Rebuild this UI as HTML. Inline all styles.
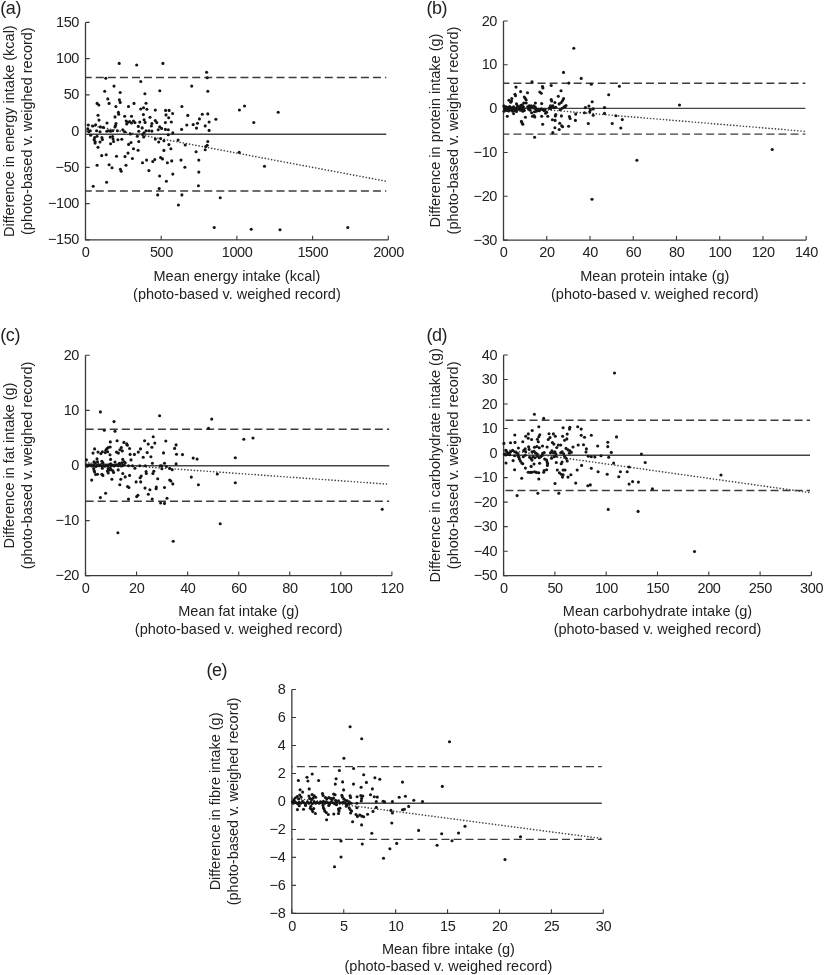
<!DOCTYPE html>
<html><head><meta charset="utf-8"><title>Bland-Altman plots</title>
<style>
html,body{margin:0;padding:0;background:#fff}
svg{display:block;will-change:transform;transform:translateZ(0)}
text{font-family:"Liberation Sans",sans-serif;fill:#222}
.t{font-size:14.5px}
.k{letter-spacing:-0.4px}
.g{font-size:18px;letter-spacing:-0.45px}
.ax{stroke:#3a3a3a;stroke-width:1.3;fill:none}
.tk{stroke:#3a3a3a;stroke-width:1.1}
.ds{stroke:#3c3c3c;stroke-width:1.3;stroke-dasharray:8 4.05;fill:none}
.so{stroke:#444;stroke-width:1.4;fill:none}
.dt{stroke:#444;stroke-width:1.65;stroke-dasharray:0.01 3.2;stroke-linecap:round;fill:none}
.p circle{fill:#151515}
</style></head><body>
<svg width="824" height="975" viewBox="0 0 824 975">
<rect width="824" height="975" fill="#fff"/>
<g>
<text class="g" x="0.3" y="14.4">(a)</text>
<path class="ax" d="M85.5 22.4V239.9H388.3"/>
<text class="t k" text-anchor="end" x="79" y="26.9">150</text>
<text class="t k" text-anchor="end" x="79" y="63.15">100</text>
<text class="t k" text-anchor="end" x="79" y="99.4">50</text>
<text class="t k" text-anchor="end" x="79" y="135.65">0</text>
<text class="t k" text-anchor="end" x="79" y="171.9">−50</text>
<text class="t k" text-anchor="end" x="79" y="208.15">−100</text>
<text class="t k" text-anchor="end" x="79" y="244.4">−150</text>
<text class="t k" text-anchor="middle" x="85.7" y="256.5">0</text>
<text class="t k" text-anchor="middle" x="161.4" y="256.5">500</text>
<text class="t k" text-anchor="middle" x="237.1" y="256.5">1000</text>
<text class="t k" text-anchor="middle" x="312.8" y="256.5">1500</text>
<text class="t k" text-anchor="middle" x="388.5" y="256.5">2000</text>
<path class="tk" d="M85.5 22.4h4.2M85.5 58.65h4.2M85.5 94.9h4.2M85.5 131.15h4.2M85.5 167.4h4.2M85.5 203.65h4.2M85.5 239.9h4.2M85.5 239.9v-4.2M161.2 239.9v-4.2M236.9 239.9v-4.2M312.6 239.9v-4.2M388.3 239.9v-4.2"/>
<path class="ds" stroke-dashoffset="1.75" d="M85.5 77.5H386.25"/>
<path class="ds" stroke-dashoffset="1.75" d="M85.5 191H386.25"/>
<path class="so" d="M85.5 134.25H386.25"/>
<path class="dt" d="M85.5 124.5L386.25 181.25"/>
<g class="p"><circle cx="140.7" cy="109" r="1.55"/><circle cx="146.9" cy="109.2" r="1.55"/><circle cx="155.3" cy="110.1" r="1.55"/><circle cx="118.4" cy="112.4" r="1.55"/><circle cx="118.7" cy="114.3" r="1.55"/><circle cx="98" cy="115.3" r="1.55"/><circle cx="143.4" cy="114.6" r="1.55"/><circle cx="124.7" cy="116.3" r="1.55"/><circle cx="131.5" cy="116.3" r="1.55"/><circle cx="115" cy="116.9" r="1.55"/><circle cx="150" cy="117.2" r="1.55"/><circle cx="99" cy="120.1" r="1.55"/><circle cx="144.1" cy="119.7" r="1.55"/><circle cx="145.1" cy="122.4" r="1.55"/><circle cx="155.3" cy="120.6" r="1.55"/><circle cx="156.8" cy="122.6" r="1.55"/><circle cx="107" cy="123" r="1.55"/><circle cx="139.8" cy="122.1" r="1.55"/><circle cx="126.2" cy="121.1" r="1.55"/><circle cx="127.6" cy="122.6" r="1.55"/><circle cx="129.6" cy="121.6" r="1.55"/><circle cx="131.5" cy="123" r="1.55"/><circle cx="133.5" cy="121.1" r="1.55"/><circle cx="134.9" cy="122.6" r="1.55"/><circle cx="126.7" cy="124" r="1.55"/><circle cx="116" cy="123.5" r="1.55"/><circle cx="115.5" cy="125.5" r="1.55"/><circle cx="115" cy="126.9" r="1.55"/><circle cx="151.9" cy="123.5" r="1.55"/><circle cx="151.4" cy="126" r="1.55"/><circle cx="88.3" cy="125" r="1.55"/><circle cx="92.7" cy="126" r="1.55"/><circle cx="95.6" cy="124.7" r="1.55"/><circle cx="138.3" cy="126.4" r="1.55"/><circle cx="142.2" cy="127.9" r="1.55"/><circle cx="100.4" cy="126.9" r="1.55"/><circle cx="103.4" cy="127.4" r="1.55"/><circle cx="159.7" cy="126.9" r="1.55"/><circle cx="158.2" cy="129.8" r="1.55"/><circle cx="87.8" cy="128.9" r="1.55"/><circle cx="90.3" cy="130.8" r="1.55"/><circle cx="88.8" cy="131.8" r="1.55"/><circle cx="96.6" cy="130.8" r="1.55"/><circle cx="100" cy="131.8" r="1.55"/><circle cx="106.8" cy="131.3" r="1.55"/><circle cx="108.7" cy="130.8" r="1.55"/><circle cx="110.6" cy="131.3" r="1.55"/><circle cx="112.6" cy="130.8" r="1.55"/><circle cx="117.4" cy="130.8" r="1.55"/><circle cx="122.8" cy="129.8" r="1.55"/><circle cx="124.7" cy="131.8" r="1.55"/><circle cx="138.8" cy="131.3" r="1.55"/><circle cx="146.1" cy="130.8" r="1.55"/><circle cx="149" cy="130.8" r="1.55"/><circle cx="151.9" cy="131.1" r="1.55"/><circle cx="144.1" cy="132.8" r="1.55"/><circle cx="142.7" cy="134.2" r="1.55"/><circle cx="130.5" cy="134" r="1.55"/><circle cx="137.3" cy="136.2" r="1.55"/><circle cx="143.7" cy="136.9" r="1.55"/><circle cx="90.7" cy="135.2" r="1.55"/><circle cx="97" cy="136.2" r="1.55"/><circle cx="94.6" cy="137.6" r="1.55"/><circle cx="94.1" cy="139.6" r="1.55"/><circle cx="95.1" cy="141.5" r="1.55"/><circle cx="95.1" cy="143.1" r="1.55"/><circle cx="101.9" cy="137.6" r="1.55"/><circle cx="102.4" cy="139.6" r="1.55"/><circle cx="100" cy="142" r="1.55"/><circle cx="110.2" cy="137.1" r="1.55"/><circle cx="112.6" cy="136.6" r="1.55"/><circle cx="113.1" cy="139.1" r="1.55"/><circle cx="113.6" cy="141.5" r="1.55"/><circle cx="110.6" cy="143.7" r="1.55"/><circle cx="117.9" cy="139.8" r="1.55"/><circle cx="121.8" cy="139.3" r="1.55"/><circle cx="131" cy="142.5" r="1.55"/><circle cx="128.6" cy="144.4" r="1.55"/><circle cx="138.8" cy="141.5" r="1.55"/><circle cx="155.3" cy="139.1" r="1.55"/><circle cx="158.7" cy="142" r="1.55"/><circle cx="98" cy="147.3" r="1.55"/><circle cx="133.5" cy="148.8" r="1.55"/><circle cx="138.1" cy="150.2" r="1.55"/><circle cx="160.6" cy="138.6" r="1.55"/><circle cx="119.2" cy="63.4" r="1.55"/><circle cx="136.7" cy="65" r="1.55"/><circle cx="162.9" cy="63.4" r="1.55"/><circle cx="206.6" cy="72.3" r="1.55"/><circle cx="207.2" cy="77.8" r="1.55"/><circle cx="105.8" cy="78.2" r="1.55"/><circle cx="140.8" cy="81.5" r="1.55"/><circle cx="114" cy="86.1" r="1.55"/><circle cx="191.7" cy="86.1" r="1.55"/><circle cx="104.7" cy="91.2" r="1.55"/><circle cx="120.2" cy="92.5" r="1.55"/><circle cx="159.8" cy="90.8" r="1.55"/><circle cx="207.8" cy="91.2" r="1.55"/><circle cx="144.9" cy="93.7" r="1.55"/><circle cx="107.8" cy="98.9" r="1.55"/><circle cx="119.4" cy="99.9" r="1.55"/><circle cx="120.2" cy="102.4" r="1.55"/><circle cx="97.1" cy="103.4" r="1.55"/><circle cx="98.8" cy="105" r="1.55"/><circle cx="109.1" cy="103.4" r="1.55"/><circle cx="134" cy="103.4" r="1.55"/><circle cx="146" cy="103.2" r="1.55"/><circle cx="115.9" cy="106.5" r="1.55"/><circle cx="128.5" cy="106.5" r="1.55"/><circle cx="181.9" cy="106.5" r="1.55"/><circle cx="143.5" cy="107.7" r="1.55"/><circle cx="165.6" cy="110.4" r="1.55"/><circle cx="169.1" cy="110.4" r="1.55"/><circle cx="239.4" cy="110" r="1.55"/><circle cx="166" cy="114.9" r="1.55"/><circle cx="172.6" cy="113.5" r="1.55"/><circle cx="168.7" cy="117.8" r="1.55"/><circle cx="187.8" cy="115.4" r="1.55"/><circle cx="202.3" cy="114.3" r="1.55"/><circle cx="207.8" cy="113.9" r="1.55"/><circle cx="199.4" cy="118.9" r="1.55"/><circle cx="215.9" cy="119.3" r="1.55"/><circle cx="165.4" cy="122.6" r="1.55"/><circle cx="171.3" cy="122" r="1.55"/><circle cx="186.8" cy="125" r="1.55"/><circle cx="193.2" cy="124.6" r="1.55"/><circle cx="197.5" cy="123.2" r="1.55"/><circle cx="205.2" cy="125.9" r="1.55"/><circle cx="209.1" cy="122" r="1.55"/><circle cx="161.6" cy="128.4" r="1.55"/><circle cx="165.4" cy="129.4" r="1.55"/><circle cx="168.3" cy="129.8" r="1.55"/><circle cx="181.6" cy="129.4" r="1.55"/><circle cx="196.5" cy="128.1" r="1.55"/><circle cx="209.1" cy="130.4" r="1.55"/><circle cx="172.8" cy="132.9" r="1.55"/><circle cx="168.3" cy="134.7" r="1.55"/><circle cx="163.9" cy="140.7" r="1.55"/><circle cx="178.1" cy="140.1" r="1.55"/><circle cx="207.8" cy="141.5" r="1.55"/><circle cx="168.9" cy="144.6" r="1.55"/><circle cx="185.2" cy="145" r="1.55"/><circle cx="207.2" cy="145.3" r="1.55"/><circle cx="205.8" cy="146.5" r="1.55"/><circle cx="205.2" cy="149.8" r="1.55"/><circle cx="163.9" cy="150.4" r="1.55"/><circle cx="170.9" cy="148.8" r="1.55"/><circle cx="196.1" cy="151.7" r="1.55"/><circle cx="239.2" cy="152.3" r="1.55"/><circle cx="101.7" cy="155.6" r="1.55"/><circle cx="106.2" cy="154.7" r="1.55"/><circle cx="116.5" cy="156.2" r="1.55"/><circle cx="125" cy="156.6" r="1.55"/><circle cx="128" cy="153.1" r="1.55"/><circle cx="132.4" cy="158.5" r="1.55"/><circle cx="160.6" cy="157.6" r="1.55"/><circle cx="162.5" cy="158.9" r="1.55"/><circle cx="154.8" cy="159.5" r="1.55"/><circle cx="152.8" cy="161.5" r="1.55"/><circle cx="146.6" cy="160.1" r="1.55"/><circle cx="142.5" cy="162.8" r="1.55"/><circle cx="167.4" cy="162.8" r="1.55"/><circle cx="171.7" cy="160.9" r="1.55"/><circle cx="181" cy="160.1" r="1.55"/><circle cx="198.8" cy="160.1" r="1.55"/><circle cx="97.1" cy="165.3" r="1.55"/><circle cx="109.1" cy="164.8" r="1.55"/><circle cx="112" cy="167.7" r="1.55"/><circle cx="126" cy="165.3" r="1.55"/><circle cx="184.9" cy="167.3" r="1.55"/><circle cx="120.4" cy="169.2" r="1.55"/><circle cx="121.2" cy="171.2" r="1.55"/><circle cx="148.9" cy="170.6" r="1.55"/><circle cx="198.8" cy="172.1" r="1.55"/><circle cx="172.8" cy="174.1" r="1.55"/><circle cx="159.6" cy="176" r="1.55"/><circle cx="166.4" cy="181.3" r="1.55"/><circle cx="106.6" cy="182.2" r="1.55"/><circle cx="93.2" cy="186.3" r="1.55"/><circle cx="198.4" cy="185.7" r="1.55"/><circle cx="159.2" cy="188.6" r="1.55"/><circle cx="157.7" cy="194.9" r="1.55"/><circle cx="181.9" cy="194.9" r="1.55"/><circle cx="220.2" cy="197.8" r="1.55"/><circle cx="244.5" cy="106" r="1.55"/><circle cx="278.2" cy="112.2" r="1.55"/><circle cx="253.8" cy="122.5" r="1.55"/><circle cx="264.5" cy="166.2" r="1.55"/><circle cx="214.2" cy="227.5" r="1.55"/><circle cx="251.2" cy="229.2" r="1.55"/><circle cx="280" cy="229.8" r="1.55"/><circle cx="347.8" cy="227.5" r="1.55"/><circle cx="178.4" cy="205" r="1.55"/></g>
<text class="t" text-anchor="middle" transform="translate(13.9 131.15) rotate(-90)">Difference in energy intake (kcal)</text>
<text class="t" text-anchor="middle" transform="translate(32 131.15) rotate(-90)">(photo-based v. weighed record)</text>
<text class="t" text-anchor="middle" x="236.9" y="281.3">Mean energy intake (kcal)</text>
<text class="t" text-anchor="middle" x="236.9" y="299.4">(photo-based v. weighed record)</text>
</g>
<g>
<text class="g" x="426.5" y="14.4">(b)</text>
<path class="ax" d="M503.5 21V240.1H806.2"/>
<text class="t k" text-anchor="end" x="497" y="25.5">20</text>
<text class="t k" text-anchor="end" x="497" y="69.32">10</text>
<text class="t k" text-anchor="end" x="497" y="113.14">0</text>
<text class="t k" text-anchor="end" x="497" y="156.96">−10</text>
<text class="t k" text-anchor="end" x="497" y="200.78">−20</text>
<text class="t k" text-anchor="end" x="497" y="244.6">−30</text>
<text class="t k" text-anchor="middle" x="503.7" y="256.7">0</text>
<text class="t k" text-anchor="middle" x="546.94" y="256.7">20</text>
<text class="t k" text-anchor="middle" x="590.19" y="256.7">40</text>
<text class="t k" text-anchor="middle" x="633.43" y="256.7">60</text>
<text class="t k" text-anchor="middle" x="676.67" y="256.7">80</text>
<text class="t k" text-anchor="middle" x="719.91" y="256.7">100</text>
<text class="t k" text-anchor="middle" x="763.16" y="256.7">120</text>
<text class="t k" text-anchor="middle" x="806.4" y="256.7">140</text>
<path class="tk" d="M503.5 21h4.2M503.5 64.82h4.2M503.5 108.64h4.2M503.5 152.46h4.2M503.5 196.28h4.2M503.5 240.1h4.2M503.5 240.1v-4.2M546.74 240.1v-4.2M589.99 240.1v-4.2M633.23 240.1v-4.2M676.47 240.1v-4.2M719.71 240.1v-4.2M762.96 240.1v-4.2M806.2 240.1v-4.2"/>
<path class="ds" stroke-dashoffset="2.15" d="M503.5 83.25H805.4"/>
<path class="ds" stroke-dashoffset="2.15" d="M503.5 134.1H805.4"/>
<path class="so" d="M503.5 108.4H805.4"/>
<path class="dt" d="M503.5 106.2L805.4 131.4"/>
<g class="p"><circle cx="516" cy="87.1" r="1.55"/><circle cx="542.5" cy="86.5" r="1.55"/><circle cx="542.9" cy="87.9" r="1.55"/><circle cx="551.2" cy="85.5" r="1.55"/><circle cx="520.6" cy="91.6" r="1.55"/><circle cx="527.5" cy="92.8" r="1.55"/><circle cx="539.8" cy="92" r="1.55"/><circle cx="541.3" cy="93.3" r="1.55"/><circle cx="561" cy="90.8" r="1.55"/><circle cx="515" cy="94.2" r="1.55"/><circle cx="515.5" cy="95.7" r="1.55"/><circle cx="558.3" cy="96.2" r="1.55"/><circle cx="524.3" cy="97.1" r="1.55"/><circle cx="525.4" cy="98.6" r="1.55"/><circle cx="526.2" cy="100" r="1.55"/><circle cx="563.6" cy="98.6" r="1.55"/><circle cx="511.8" cy="98.6" r="1.55"/><circle cx="508.9" cy="100.3" r="1.55"/><circle cx="510.7" cy="102.3" r="1.55"/><circle cx="511.5" cy="101" r="1.55"/><circle cx="551.2" cy="99.6" r="1.55"/><circle cx="551.7" cy="101" r="1.55"/><circle cx="554.9" cy="102.5" r="1.55"/><circle cx="562.6" cy="100.5" r="1.55"/><circle cx="561.2" cy="102.5" r="1.55"/><circle cx="559.2" cy="103.9" r="1.55"/><circle cx="535.4" cy="103" r="1.55"/><circle cx="541.7" cy="103.6" r="1.55"/><circle cx="516.5" cy="103.9" r="1.55"/><circle cx="523.8" cy="103" r="1.55"/><circle cx="526.2" cy="103" r="1.55"/><circle cx="503.9" cy="105.9" r="1.55"/><circle cx="504.4" cy="107.8" r="1.55"/><circle cx="504.9" cy="109.8" r="1.55"/><circle cx="504.1" cy="111.2" r="1.55"/><circle cx="505.8" cy="106.8" r="1.55"/><circle cx="506.3" cy="108.8" r="1.55"/><circle cx="506.8" cy="110.4" r="1.55"/><circle cx="507.8" cy="107.3" r="1.55"/><circle cx="508.3" cy="109.3" r="1.55"/><circle cx="508.7" cy="111" r="1.55"/><circle cx="509.7" cy="106.6" r="1.55"/><circle cx="510.2" cy="108.3" r="1.55"/><circle cx="510.7" cy="110" r="1.55"/><circle cx="511.7" cy="107.8" r="1.55"/><circle cx="512.1" cy="109.3" r="1.55"/><circle cx="512.6" cy="111.2" r="1.55"/><circle cx="513.6" cy="106.8" r="1.55"/><circle cx="514.1" cy="108.8" r="1.55"/><circle cx="514.6" cy="110.4" r="1.55"/><circle cx="515.5" cy="108.3" r="1.55"/><circle cx="516" cy="109.8" r="1.55"/><circle cx="516.5" cy="111.4" r="1.55"/><circle cx="517.5" cy="105.9" r="1.55"/><circle cx="518" cy="107.8" r="1.55"/><circle cx="518.4" cy="109.3" r="1.55"/><circle cx="519.4" cy="106.8" r="1.55"/><circle cx="519.9" cy="108.8" r="1.55"/><circle cx="520.4" cy="110.2" r="1.55"/><circle cx="521.4" cy="107.8" r="1.55"/><circle cx="521.8" cy="109.8" r="1.55"/><circle cx="522.8" cy="111.2" r="1.55"/><circle cx="523.3" cy="106.8" r="1.55"/><circle cx="523.8" cy="108.8" r="1.55"/><circle cx="524.3" cy="110.4" r="1.55"/><circle cx="520.9" cy="105.4" r="1.55"/><circle cx="522.3" cy="104.9" r="1.55"/><circle cx="527.7" cy="106.8" r="1.55"/><circle cx="529.1" cy="105.9" r="1.55"/><circle cx="530.1" cy="107.8" r="1.55"/><circle cx="528.6" cy="109.3" r="1.55"/><circle cx="531.1" cy="105.9" r="1.55"/><circle cx="532" cy="106.8" r="1.55"/><circle cx="534" cy="105.9" r="1.55"/><circle cx="534.5" cy="108.3" r="1.55"/><circle cx="535.4" cy="107.3" r="1.55"/><circle cx="536.4" cy="109.3" r="1.55"/><circle cx="530.1" cy="110.2" r="1.55"/><circle cx="534.5" cy="111.7" r="1.55"/><circle cx="531.6" cy="112.7" r="1.55"/><circle cx="536.4" cy="111.2" r="1.55"/><circle cx="537.4" cy="110.4" r="1.55"/><circle cx="538.3" cy="109.3" r="1.55"/><circle cx="539.3" cy="110.7" r="1.55"/><circle cx="540.3" cy="109.8" r="1.55"/><circle cx="541.3" cy="108.8" r="1.55"/><circle cx="543.2" cy="109.8" r="1.55"/><circle cx="544.2" cy="110.7" r="1.55"/><circle cx="545.1" cy="109.8" r="1.55"/><circle cx="545.6" cy="113.2" r="1.55"/><circle cx="546.6" cy="112.2" r="1.55"/><circle cx="549.5" cy="107.8" r="1.55"/><circle cx="550.5" cy="108.8" r="1.55"/><circle cx="551.5" cy="106.8" r="1.55"/><circle cx="552.9" cy="105.9" r="1.55"/><circle cx="553.9" cy="107.8" r="1.55"/><circle cx="555.8" cy="107.3" r="1.55"/><circle cx="550.5" cy="105.9" r="1.55"/><circle cx="560.2" cy="109.8" r="1.55"/><circle cx="562.1" cy="108.3" r="1.55"/><circle cx="564.1" cy="106.8" r="1.55"/><circle cx="566" cy="105.6" r="1.55"/><circle cx="565.2" cy="106.6" r="1.55"/><circle cx="507.3" cy="116.3" r="1.55"/><circle cx="513.6" cy="113.6" r="1.55"/><circle cx="525.4" cy="117.2" r="1.55"/><circle cx="532.5" cy="116.3" r="1.55"/><circle cx="534.8" cy="117" r="1.55"/><circle cx="534" cy="115.6" r="1.55"/><circle cx="541.7" cy="116.3" r="1.55"/><circle cx="547.8" cy="116.3" r="1.55"/><circle cx="555.8" cy="114.6" r="1.55"/><circle cx="555.3" cy="115.9" r="1.55"/><circle cx="561.4" cy="115.9" r="1.55"/><circle cx="569.4" cy="116.6" r="1.55"/><circle cx="570.1" cy="118.5" r="1.55"/><circle cx="575.7" cy="114.1" r="1.55"/><circle cx="552.4" cy="119.8" r="1.55"/><circle cx="555.1" cy="120.4" r="1.55"/><circle cx="575.4" cy="120.4" r="1.55"/><circle cx="521.4" cy="121.4" r="1.55"/><circle cx="522.1" cy="122.9" r="1.55"/><circle cx="522.8" cy="124.3" r="1.55"/><circle cx="542.7" cy="124.3" r="1.55"/><circle cx="559.7" cy="123.3" r="1.55"/><circle cx="561.7" cy="125.8" r="1.55"/><circle cx="562.6" cy="126.7" r="1.55"/><circle cx="568.6" cy="126.3" r="1.55"/><circle cx="554.9" cy="127.7" r="1.55"/><circle cx="559.2" cy="129.5" r="1.55"/><circle cx="573.8" cy="48.2" r="1.55"/><circle cx="563.5" cy="72.4" r="1.55"/><circle cx="581.2" cy="78.4" r="1.55"/><circle cx="532" cy="81.7" r="1.55"/><circle cx="568.9" cy="83.1" r="1.55"/><circle cx="591.3" cy="84.3" r="1.55"/><circle cx="619.4" cy="86.2" r="1.55"/><circle cx="608.7" cy="94.8" r="1.55"/><circle cx="592.2" cy="101.7" r="1.55"/><circle cx="588.9" cy="106" r="1.55"/><circle cx="585.4" cy="107.6" r="1.55"/><circle cx="604.5" cy="107.6" r="1.55"/><circle cx="590.3" cy="109.9" r="1.55"/><circle cx="593.2" cy="108.9" r="1.55"/><circle cx="584.5" cy="112.8" r="1.55"/><circle cx="589.7" cy="111.8" r="1.55"/><circle cx="604.5" cy="113.4" r="1.55"/><circle cx="593.2" cy="115.3" r="1.55"/><circle cx="615.9" cy="115.7" r="1.55"/><circle cx="622.3" cy="119.6" r="1.55"/><circle cx="588.3" cy="123.5" r="1.55"/><circle cx="612.2" cy="123.5" r="1.55"/><circle cx="620.8" cy="128" r="1.55"/><circle cx="534.6" cy="137.3" r="1.55"/><circle cx="552.8" cy="132.6" r="1.55"/><circle cx="636.9" cy="160.2" r="1.55"/><circle cx="592" cy="199.2" r="1.55"/><circle cx="679.5" cy="105" r="1.55"/><circle cx="772.2" cy="149.5" r="1.55"/></g>
<text class="t" text-anchor="middle" transform="translate(440.3 130.55) rotate(-90)">Difference in protein intake (g)</text>
<text class="t" text-anchor="middle" transform="translate(458.4 130.55) rotate(-90)">(photo-based v. weighed record)</text>
<text class="t" text-anchor="middle" x="654.85" y="281.3">Mean protein intake (g)</text>
<text class="t" text-anchor="middle" x="654.85" y="299.4">(photo-based v. weighed record)</text>
</g>
<g>
<text class="g" x="0.3" y="340.9">(c)</text>
<path class="ax" d="M85.5 355.3V575.7H391.9"/>
<text class="t k" text-anchor="end" x="79" y="359.8">20</text>
<text class="t k" text-anchor="end" x="79" y="414.9">10</text>
<text class="t k" text-anchor="end" x="79" y="470">0</text>
<text class="t k" text-anchor="end" x="79" y="525.1">−10</text>
<text class="t k" text-anchor="end" x="79" y="580.2">−20</text>
<text class="t k" text-anchor="middle" x="85.7" y="592.6">0</text>
<text class="t k" text-anchor="middle" x="136.77" y="592.6">20</text>
<text class="t k" text-anchor="middle" x="187.83" y="592.6">40</text>
<text class="t k" text-anchor="middle" x="238.9" y="592.6">60</text>
<text class="t k" text-anchor="middle" x="289.97" y="592.6">80</text>
<text class="t k" text-anchor="middle" x="341.03" y="592.6">100</text>
<text class="t k" text-anchor="middle" x="392.1" y="592.6">120</text>
<path class="tk" d="M85.5 355.3h4.2M85.5 410.4h4.2M85.5 465.5h4.2M85.5 520.6h4.2M85.5 575.7h4.2M85.5 575.7v-4.2M136.57 575.7v-4.2M187.63 575.7v-4.2M238.7 575.7v-4.2M289.77 575.7v-4.2M340.83 575.7v-4.2M391.9 575.7v-4.2"/>
<path class="ds" stroke-dashoffset="-0.15" d="M85.5 429.25H389.25"/>
<path class="ds" stroke-dashoffset="-0.15" d="M85.5 501.25H389.25"/>
<path class="so" d="M85.5 465.75H389.25"/>
<path class="dt" d="M85.5 462.6L389.25 484.25"/>
<g class="p"><circle cx="110.3" cy="441.9" r="1.55"/><circle cx="117.1" cy="440.8" r="1.55"/><circle cx="123.9" cy="442.4" r="1.55"/><circle cx="126.7" cy="443.9" r="1.55"/><circle cx="127.4" cy="445.3" r="1.55"/><circle cx="144.6" cy="440.8" r="1.55"/><circle cx="148.2" cy="444.1" r="1.55"/><circle cx="154.8" cy="443.1" r="1.55"/><circle cx="151.9" cy="447.3" r="1.55"/><circle cx="94.6" cy="448.9" r="1.55"/><circle cx="108.2" cy="447.6" r="1.55"/><circle cx="110.2" cy="447" r="1.55"/><circle cx="106.8" cy="448.7" r="1.55"/><circle cx="105.8" cy="450.2" r="1.55"/><circle cx="121.3" cy="447.6" r="1.55"/><circle cx="119.9" cy="449.7" r="1.55"/><circle cx="122.3" cy="450.9" r="1.55"/><circle cx="129.6" cy="448.5" r="1.55"/><circle cx="140.5" cy="448.9" r="1.55"/><circle cx="93" cy="453.1" r="1.55"/><circle cx="98" cy="452.1" r="1.55"/><circle cx="100.9" cy="453.6" r="1.55"/><circle cx="102.4" cy="451.7" r="1.55"/><circle cx="105.3" cy="452.6" r="1.55"/><circle cx="107.7" cy="451.7" r="1.55"/><circle cx="116.5" cy="452.1" r="1.55"/><circle cx="118.4" cy="453.1" r="1.55"/><circle cx="110" cy="454.8" r="1.55"/><circle cx="130.1" cy="454.4" r="1.55"/><circle cx="134.4" cy="454.4" r="1.55"/><circle cx="138.3" cy="452.1" r="1.55"/><circle cx="147.2" cy="452.6" r="1.55"/><circle cx="143.2" cy="457.3" r="1.55"/><circle cx="150.9" cy="456.7" r="1.55"/><circle cx="86.4" cy="459.9" r="1.55"/><circle cx="97" cy="458.9" r="1.55"/><circle cx="110.6" cy="459.4" r="1.55"/><circle cx="122.8" cy="459.4" r="1.55"/><circle cx="131" cy="459.9" r="1.55"/><circle cx="94.1" cy="461.8" r="1.55"/><circle cx="95.1" cy="463.3" r="1.55"/><circle cx="97.5" cy="461.8" r="1.55"/><circle cx="101.9" cy="461.2" r="1.55"/><circle cx="102.9" cy="462.8" r="1.55"/><circle cx="115" cy="462.1" r="1.55"/><circle cx="119.4" cy="463.3" r="1.55"/><circle cx="121.8" cy="462.8" r="1.55"/><circle cx="124.2" cy="461.8" r="1.55"/><circle cx="125.2" cy="462.8" r="1.55"/><circle cx="152.4" cy="463.3" r="1.55"/><circle cx="86.4" cy="464.8" r="1.55"/><circle cx="87.3" cy="466.2" r="1.55"/><circle cx="88.8" cy="465.4" r="1.55"/><circle cx="90.3" cy="464.8" r="1.55"/><circle cx="91.7" cy="466" r="1.55"/><circle cx="93.2" cy="465" r="1.55"/><circle cx="94.6" cy="465.7" r="1.55"/><circle cx="96.1" cy="466.4" r="1.55"/><circle cx="97.5" cy="465" r="1.55"/><circle cx="99" cy="465.7" r="1.55"/><circle cx="100.4" cy="464.8" r="1.55"/><circle cx="101.9" cy="466.2" r="1.55"/><circle cx="103.4" cy="465.4" r="1.55"/><circle cx="104.8" cy="466.2" r="1.55"/><circle cx="106.3" cy="465" r="1.55"/><circle cx="107.7" cy="466" r="1.55"/><circle cx="109.2" cy="464.8" r="1.55"/><circle cx="110.6" cy="463.8" r="1.55"/><circle cx="111.1" cy="465.7" r="1.55"/><circle cx="112.6" cy="465" r="1.55"/><circle cx="114" cy="466" r="1.55"/><circle cx="115.5" cy="465.4" r="1.55"/><circle cx="117" cy="464.8" r="1.55"/><circle cx="118.4" cy="465.7" r="1.55"/><circle cx="119.9" cy="465" r="1.55"/><circle cx="121.3" cy="466" r="1.55"/><circle cx="122.8" cy="465.4" r="1.55"/><circle cx="124.2" cy="464.8" r="1.55"/><circle cx="128.6" cy="465.7" r="1.55"/><circle cx="132.5" cy="465.7" r="1.55"/><circle cx="134.9" cy="468.2" r="1.55"/><circle cx="139.8" cy="465.7" r="1.55"/><circle cx="145.3" cy="465.7" r="1.55"/><circle cx="160.2" cy="465.7" r="1.55"/><circle cx="93.7" cy="468.6" r="1.55"/><circle cx="94.1" cy="470.6" r="1.55"/><circle cx="94.6" cy="472" r="1.55"/><circle cx="102.4" cy="468.2" r="1.55"/><circle cx="108.2" cy="468.6" r="1.55"/><circle cx="110.2" cy="468.2" r="1.55"/><circle cx="109.2" cy="470.1" r="1.55"/><circle cx="107.4" cy="471.1" r="1.55"/><circle cx="108.2" cy="473" r="1.55"/><circle cx="111.1" cy="469.6" r="1.55"/><circle cx="112.9" cy="470.9" r="1.55"/><circle cx="113.6" cy="472.5" r="1.55"/><circle cx="118.2" cy="469.9" r="1.55"/><circle cx="95.6" cy="474.5" r="1.55"/><circle cx="97.5" cy="474.2" r="1.55"/><circle cx="101.9" cy="474.2" r="1.55"/><circle cx="102.9" cy="475.4" r="1.55"/><circle cx="122.8" cy="473.5" r="1.55"/><circle cx="146.1" cy="471.6" r="1.55"/><circle cx="146.3" cy="473.5" r="1.55"/><circle cx="153.8" cy="471.3" r="1.55"/><circle cx="152.9" cy="473.5" r="1.55"/><circle cx="125.2" cy="476.9" r="1.55"/><circle cx="129.6" cy="475.4" r="1.55"/><circle cx="141.2" cy="476.1" r="1.55"/><circle cx="140.1" cy="477.7" r="1.55"/><circle cx="91.7" cy="480.1" r="1.55"/><circle cx="111.9" cy="479.3" r="1.55"/><circle cx="120.8" cy="479.3" r="1.55"/><circle cx="136.1" cy="481.9" r="1.55"/><circle cx="140.7" cy="481.9" r="1.55"/><circle cx="157.7" cy="478.8" r="1.55"/><circle cx="100.4" cy="411.9" r="1.55"/><circle cx="159.6" cy="415.8" r="1.55"/><circle cx="211.7" cy="419.1" r="1.55"/><circle cx="114" cy="421.6" r="1.55"/><circle cx="104.3" cy="430.3" r="1.55"/><circle cx="115" cy="431.3" r="1.55"/><circle cx="208.5" cy="428.4" r="1.55"/><circle cx="153.2" cy="436.7" r="1.55"/><circle cx="165.8" cy="441" r="1.55"/><circle cx="176.1" cy="444.9" r="1.55"/><circle cx="174.6" cy="448.4" r="1.55"/><circle cx="163.5" cy="452.9" r="1.55"/><circle cx="176.5" cy="454.2" r="1.55"/><circle cx="182.5" cy="454.6" r="1.55"/><circle cx="193.2" cy="458.1" r="1.55"/><circle cx="197.1" cy="459.1" r="1.55"/><circle cx="235.3" cy="457.7" r="1.55"/><circle cx="164.5" cy="463.3" r="1.55"/><circle cx="176.1" cy="463.9" r="1.55"/><circle cx="161.6" cy="465.9" r="1.55"/><circle cx="166.4" cy="466.5" r="1.55"/><circle cx="161.9" cy="468.8" r="1.55"/><circle cx="169.7" cy="468.4" r="1.55"/><circle cx="172.2" cy="469.8" r="1.55"/><circle cx="169.7" cy="480" r="1.55"/><circle cx="170.9" cy="481" r="1.55"/><circle cx="191.3" cy="477.1" r="1.55"/><circle cx="217.3" cy="474" r="1.55"/><circle cx="235.3" cy="482.8" r="1.55"/><circle cx="198.4" cy="484.7" r="1.55"/><circle cx="119.8" cy="484.7" r="1.55"/><circle cx="172.8" cy="483.9" r="1.55"/><circle cx="127.6" cy="486.5" r="1.55"/><circle cx="128.9" cy="487.5" r="1.55"/><circle cx="145" cy="488.1" r="1.55"/><circle cx="149.9" cy="489.8" r="1.55"/><circle cx="156.3" cy="487.1" r="1.55"/><circle cx="156.1" cy="488.8" r="1.55"/><circle cx="164.5" cy="487.5" r="1.55"/><circle cx="105.6" cy="493.3" r="1.55"/><circle cx="148.3" cy="494.3" r="1.55"/><circle cx="137.9" cy="495.2" r="1.55"/><circle cx="136.7" cy="496.6" r="1.55"/><circle cx="100.4" cy="497.6" r="1.55"/><circle cx="128.5" cy="499.1" r="1.55"/><circle cx="152.2" cy="499.1" r="1.55"/><circle cx="167" cy="498.2" r="1.55"/><circle cx="160.6" cy="503" r="1.55"/><circle cx="164.5" cy="503.4" r="1.55"/><circle cx="117.9" cy="532.7" r="1.55"/><circle cx="220.2" cy="523.8" r="1.55"/><circle cx="173.2" cy="541.3" r="1.55"/><circle cx="243.8" cy="439.2" r="1.55"/><circle cx="253" cy="438" r="1.55"/><circle cx="382.2" cy="509.2" r="1.55"/></g>
<text class="t" text-anchor="middle" transform="translate(13.8 465.5) rotate(-90)">Difference in fat intake (g)</text>
<text class="t" text-anchor="middle" transform="translate(31.9 465.5) rotate(-90)">(photo-based v. weighed record)</text>
<text class="t" text-anchor="middle" x="238.7" y="616.2">Mean fat intake (g)</text>
<text class="t" text-anchor="middle" x="238.7" y="634.4">(photo-based v. weighed record)</text>
</g>
<g>
<text class="g" x="426.5" y="340.9">(d)</text>
<path class="ax" d="M503.6 355V575.7H811.4"/>
<text class="t k" text-anchor="end" x="497.1" y="359.5">40</text>
<text class="t k" text-anchor="end" x="497.1" y="384.02">30</text>
<text class="t k" text-anchor="end" x="497.1" y="408.54">20</text>
<text class="t k" text-anchor="end" x="497.1" y="433.07">10</text>
<text class="t k" text-anchor="end" x="497.1" y="457.59">0</text>
<text class="t k" text-anchor="end" x="497.1" y="482.11">−10</text>
<text class="t k" text-anchor="end" x="497.1" y="506.63">−20</text>
<text class="t k" text-anchor="end" x="497.1" y="531.16">−30</text>
<text class="t k" text-anchor="end" x="497.1" y="555.68">−40</text>
<text class="t k" text-anchor="end" x="497.1" y="580.2">−50</text>
<text class="t k" text-anchor="middle" x="503.8" y="592.9">0</text>
<text class="t k" text-anchor="middle" x="555.1" y="592.9">50</text>
<text class="t k" text-anchor="middle" x="606.4" y="592.9">100</text>
<text class="t k" text-anchor="middle" x="657.7" y="592.9">150</text>
<text class="t k" text-anchor="middle" x="709" y="592.9">200</text>
<text class="t k" text-anchor="middle" x="760.3" y="592.9">250</text>
<text class="t k" text-anchor="middle" x="811.6" y="592.9">300</text>
<path class="tk" d="M503.6 355h4.2M503.6 379.52h4.2M503.6 404.04h4.2M503.6 428.57h4.2M503.6 453.09h4.2M503.6 477.61h4.2M503.6 502.13h4.2M503.6 526.66h4.2M503.6 551.18h4.2M503.6 575.7h4.2M503.6 575.7v-4.2M554.9 575.7v-4.2M606.2 575.7v-4.2M657.5 575.7v-4.2M708.8 575.7v-4.2M760.1 575.7v-4.2M811.4 575.7v-4.2"/>
<path class="ds" stroke-dashoffset="-1.8" d="M503.6 420.25H810"/>
<path class="ds" stroke-dashoffset="-1.8" d="M503.6 490.5H810"/>
<path class="so" d="M503.6 455.25H810"/>
<path class="dt" d="M503.6 449.5L810 492.6"/>
<g class="p"><circle cx="532.2" cy="430.5" r="1.55"/><circle cx="514.8" cy="435" r="1.55"/><circle cx="528.3" cy="433.9" r="1.55"/><circle cx="525.7" cy="436.3" r="1.55"/><circle cx="528.2" cy="438.3" r="1.55"/><circle cx="531.6" cy="439.5" r="1.55"/><circle cx="539.8" cy="434.7" r="1.55"/><circle cx="538.8" cy="436.8" r="1.55"/><circle cx="537.4" cy="439.2" r="1.55"/><circle cx="538.3" cy="441.7" r="1.55"/><circle cx="549" cy="433.7" r="1.55"/><circle cx="553.4" cy="433.9" r="1.55"/><circle cx="555.3" cy="436.3" r="1.55"/><circle cx="550" cy="437.6" r="1.55"/><circle cx="548.3" cy="439.5" r="1.55"/><circle cx="562.6" cy="436.3" r="1.55"/><circle cx="567.2" cy="434.1" r="1.55"/><circle cx="566.8" cy="438.9" r="1.55"/><circle cx="564.6" cy="440.2" r="1.55"/><circle cx="522.8" cy="441.7" r="1.55"/><circle cx="515" cy="442.4" r="1.55"/><circle cx="510.5" cy="442.8" r="1.55"/><circle cx="503.9" cy="443.4" r="1.55"/><circle cx="552.4" cy="442.6" r="1.55"/><circle cx="553.9" cy="444.1" r="1.55"/><circle cx="558.3" cy="445" r="1.55"/><circle cx="560.7" cy="445" r="1.55"/><circle cx="578.2" cy="445" r="1.55"/><circle cx="573" cy="447" r="1.55"/><circle cx="528.6" cy="446.7" r="1.55"/><circle cx="518.4" cy="448" r="1.55"/><circle cx="534.5" cy="447.3" r="1.55"/><circle cx="536.9" cy="446.5" r="1.55"/><circle cx="539.3" cy="447.7" r="1.55"/><circle cx="542.5" cy="446" r="1.55"/><circle cx="547.1" cy="447" r="1.55"/><circle cx="556.8" cy="447.5" r="1.55"/><circle cx="566" cy="448.4" r="1.55"/><circle cx="505.8" cy="450.4" r="1.55"/><circle cx="507.3" cy="452.3" r="1.55"/><circle cx="509.2" cy="453.3" r="1.55"/><circle cx="510.7" cy="451.8" r="1.55"/><circle cx="512.6" cy="450.4" r="1.55"/><circle cx="514.6" cy="451.8" r="1.55"/><circle cx="516.5" cy="452.8" r="1.55"/><circle cx="518" cy="453.8" r="1.55"/><circle cx="523.8" cy="450.4" r="1.55"/><circle cx="525.2" cy="448.9" r="1.55"/><circle cx="525.7" cy="451.8" r="1.55"/><circle cx="529.1" cy="449.4" r="1.55"/><circle cx="532" cy="451.8" r="1.55"/><circle cx="534" cy="451.4" r="1.55"/><circle cx="535.4" cy="452.8" r="1.55"/><circle cx="536.9" cy="453.8" r="1.55"/><circle cx="542.7" cy="453.3" r="1.55"/><circle cx="544.2" cy="452.5" r="1.55"/><circle cx="550.5" cy="452.8" r="1.55"/><circle cx="551.9" cy="450.9" r="1.55"/><circle cx="553.4" cy="452.8" r="1.55"/><circle cx="554.9" cy="451.8" r="1.55"/><circle cx="555.8" cy="453.8" r="1.55"/><circle cx="560.7" cy="452.8" r="1.55"/><circle cx="562.1" cy="451.8" r="1.55"/><circle cx="563.6" cy="453.8" r="1.55"/><circle cx="568" cy="449.9" r="1.55"/><circle cx="569.9" cy="450.9" r="1.55"/><circle cx="571.4" cy="452.3" r="1.55"/><circle cx="569.4" cy="453.3" r="1.55"/><circle cx="504.4" cy="454.3" r="1.55"/><circle cx="505.8" cy="455" r="1.55"/><circle cx="507.8" cy="454.3" r="1.55"/><circle cx="509.7" cy="454.8" r="1.55"/><circle cx="514.6" cy="455.7" r="1.55"/><circle cx="518" cy="455.7" r="1.55"/><circle cx="518.9" cy="457.2" r="1.55"/><circle cx="523.3" cy="456.7" r="1.55"/><circle cx="525.2" cy="455.2" r="1.55"/><circle cx="529.6" cy="457.2" r="1.55"/><circle cx="531.1" cy="458.6" r="1.55"/><circle cx="533" cy="456.7" r="1.55"/><circle cx="535" cy="457.7" r="1.55"/><circle cx="537.4" cy="456.2" r="1.55"/><circle cx="539.3" cy="457.7" r="1.55"/><circle cx="540.8" cy="456.7" r="1.55"/><circle cx="542.2" cy="455.4" r="1.55"/><circle cx="544.7" cy="459.1" r="1.55"/><circle cx="546.6" cy="460.1" r="1.55"/><circle cx="551.5" cy="458.3" r="1.55"/><circle cx="553.9" cy="456.7" r="1.55"/><circle cx="555.8" cy="456.2" r="1.55"/><circle cx="564.6" cy="456.2" r="1.55"/><circle cx="566" cy="458.2" r="1.55"/><circle cx="567.2" cy="460.9" r="1.55"/><circle cx="519.4" cy="459.1" r="1.55"/><circle cx="520.4" cy="461.1" r="1.55"/><circle cx="521.8" cy="463" r="1.55"/><circle cx="522.8" cy="463.8" r="1.55"/><circle cx="513.1" cy="460.6" r="1.55"/><circle cx="506" cy="463" r="1.55"/><circle cx="532" cy="460.1" r="1.55"/><circle cx="534" cy="464" r="1.55"/><circle cx="531.1" cy="466.4" r="1.55"/><circle cx="539.6" cy="463.2" r="1.55"/><circle cx="547.1" cy="462" r="1.55"/><circle cx="547.6" cy="463.5" r="1.55"/><circle cx="547.4" cy="465.4" r="1.55"/><circle cx="556.3" cy="462.5" r="1.55"/><circle cx="562.1" cy="462" r="1.55"/><circle cx="561.2" cy="463.8" r="1.55"/><circle cx="514.6" cy="469.8" r="1.55"/><circle cx="525.4" cy="468.1" r="1.55"/><circle cx="528.2" cy="472.2" r="1.55"/><circle cx="530.3" cy="472.4" r="1.55"/><circle cx="532" cy="472.2" r="1.55"/><circle cx="534.5" cy="471.7" r="1.55"/><circle cx="536.4" cy="472.4" r="1.55"/><circle cx="538.8" cy="472.7" r="1.55"/><circle cx="544.2" cy="470.6" r="1.55"/><circle cx="546.6" cy="469.8" r="1.55"/><circle cx="543.7" cy="472.2" r="1.55"/><circle cx="557.3" cy="470" r="1.55"/><circle cx="563.1" cy="470" r="1.55"/><circle cx="565" cy="470" r="1.55"/><circle cx="559.4" cy="472.7" r="1.55"/><circle cx="561.2" cy="474.2" r="1.55"/><circle cx="577.2" cy="470" r="1.55"/><circle cx="570.9" cy="474.7" r="1.55"/><circle cx="534.4" cy="414.2" r="1.55"/><circle cx="543.7" cy="418.4" r="1.55"/><circle cx="538.8" cy="426.8" r="1.55"/><circle cx="563.1" cy="427.8" r="1.55"/><circle cx="569.9" cy="427.2" r="1.55"/><circle cx="569.5" cy="429.1" r="1.55"/><circle cx="577.7" cy="426.8" r="1.55"/><circle cx="581.2" cy="429.1" r="1.55"/><circle cx="581.2" cy="435.3" r="1.55"/><circle cx="591.3" cy="435.3" r="1.55"/><circle cx="584.5" cy="437.3" r="1.55"/><circle cx="616.5" cy="436.9" r="1.55"/><circle cx="607.8" cy="442.3" r="1.55"/><circle cx="583.5" cy="444.7" r="1.55"/><circle cx="597.7" cy="446" r="1.55"/><circle cx="607.8" cy="446.6" r="1.55"/><circle cx="586.4" cy="448.9" r="1.55"/><circle cx="586" cy="452" r="1.55"/><circle cx="611.3" cy="452.4" r="1.55"/><circle cx="641.4" cy="454" r="1.55"/><circle cx="588.3" cy="456.3" r="1.55"/><circle cx="591.3" cy="456.7" r="1.55"/><circle cx="594.8" cy="456.9" r="1.55"/><circle cx="601" cy="455.7" r="1.55"/><circle cx="608.7" cy="457.3" r="1.55"/><circle cx="645.2" cy="462.5" r="1.55"/><circle cx="613.6" cy="463.1" r="1.55"/><circle cx="581.6" cy="465.4" r="1.55"/><circle cx="591.3" cy="468.3" r="1.55"/><circle cx="629.1" cy="467" r="1.55"/><circle cx="563.1" cy="474.8" r="1.55"/><circle cx="598.1" cy="471.8" r="1.55"/><circle cx="607.2" cy="474.2" r="1.55"/><circle cx="620.4" cy="471.8" r="1.55"/><circle cx="627.2" cy="471.8" r="1.55"/><circle cx="562.5" cy="477.1" r="1.55"/><circle cx="568" cy="477.1" r="1.55"/><circle cx="618.8" cy="476.7" r="1.55"/><circle cx="521.7" cy="478.3" r="1.55"/><circle cx="538.8" cy="479" r="1.55"/><circle cx="555" cy="483.5" r="1.55"/><circle cx="575.7" cy="483.1" r="1.55"/><circle cx="590.3" cy="484.9" r="1.55"/><circle cx="587.8" cy="485.8" r="1.55"/><circle cx="632.6" cy="481.6" r="1.55"/><circle cx="638.4" cy="482.1" r="1.55"/><circle cx="629.1" cy="484.1" r="1.55"/><circle cx="652.4" cy="488.9" r="1.55"/><circle cx="517.1" cy="495.6" r="1.55"/><circle cx="537.9" cy="493.3" r="1.55"/><circle cx="558.8" cy="493.3" r="1.55"/><circle cx="608.2" cy="509.4" r="1.55"/><circle cx="638.1" cy="511.4" r="1.55"/><circle cx="614.5" cy="373" r="1.55"/><circle cx="721" cy="475" r="1.55"/><circle cx="694.5" cy="551.5" r="1.55"/></g>
<text class="t" text-anchor="middle" transform="translate(440.3 465.35) rotate(-90)">Difference in carbohydrate intake (g)</text>
<text class="t" text-anchor="middle" transform="translate(458.4 465.35) rotate(-90)">(photo-based v. weighed record)</text>
<text class="t" text-anchor="middle" x="657.5" y="616.2">Mean carbohydrate intake (g)</text>
<text class="t" text-anchor="middle" x="657.5" y="634.4">(photo-based v. weighed record)</text>
</g>
<g>
<text class="g" x="206.5" y="675.9">(e)</text>
<path class="ax" d="M291.85 689.5V913.4H603.3"/>
<text class="t k" text-anchor="end" x="285.35" y="694">8</text>
<text class="t k" text-anchor="end" x="285.35" y="721.99">6</text>
<text class="t k" text-anchor="end" x="285.35" y="749.98">4</text>
<text class="t k" text-anchor="end" x="285.35" y="777.96">2</text>
<text class="t k" text-anchor="end" x="285.35" y="805.95">0</text>
<text class="t k" text-anchor="end" x="285.35" y="833.94">−2</text>
<text class="t k" text-anchor="end" x="285.35" y="861.92">−4</text>
<text class="t k" text-anchor="end" x="285.35" y="889.91">−6</text>
<text class="t k" text-anchor="end" x="285.35" y="917.9">−8</text>
<text class="t k" text-anchor="middle" x="292.05" y="930.7">0</text>
<text class="t k" text-anchor="middle" x="343.96" y="930.7">5</text>
<text class="t k" text-anchor="middle" x="395.87" y="930.7">10</text>
<text class="t k" text-anchor="middle" x="447.77" y="930.7">15</text>
<text class="t k" text-anchor="middle" x="499.68" y="930.7">20</text>
<text class="t k" text-anchor="middle" x="551.59" y="930.7">25</text>
<text class="t k" text-anchor="middle" x="603.5" y="930.7">30</text>
<path class="tk" d="M291.85 689.5h4.2M291.85 717.49h4.2M291.85 745.48h4.2M291.85 773.46h4.2M291.85 801.45h4.2M291.85 829.44h4.2M291.85 857.42h4.2M291.85 885.41h4.2M291.85 913.4h4.2M291.85 913.4v-4.2M343.76 913.4v-4.2M395.67 913.4v-4.2M447.57 913.4v-4.2M499.48 913.4v-4.2M551.39 913.4v-4.2M603.3 913.4v-4.2"/>
<path class="ds" stroke-dashoffset="7.05" d="M291.85 766.7H601.8"/>
<path class="ds" stroke-dashoffset="7.05" d="M291.85 839.4H601.8"/>
<path class="so" d="M291.85 803.2H601.8"/>
<path class="dt" d="M291.85 797.8L601.8 838.5"/>
<g class="p"><circle cx="298.4" cy="780.5" r="1.55"/><circle cx="307.9" cy="781" r="1.55"/><circle cx="318.6" cy="780.5" r="1.55"/><circle cx="335.3" cy="784.1" r="1.55"/><circle cx="342.6" cy="781.9" r="1.55"/><circle cx="353.5" cy="784.1" r="1.55"/><circle cx="366.4" cy="782.4" r="1.55"/><circle cx="361.1" cy="787.3" r="1.55"/><circle cx="300.1" cy="789.7" r="1.55"/><circle cx="302.6" cy="792.1" r="1.55"/><circle cx="309.2" cy="788.9" r="1.55"/><circle cx="343.6" cy="789.9" r="1.55"/><circle cx="333.6" cy="794.1" r="1.55"/><circle cx="335.1" cy="794.8" r="1.55"/><circle cx="322.5" cy="793.6" r="1.55"/><circle cx="323.1" cy="795.5" r="1.55"/><circle cx="312.1" cy="794.6" r="1.55"/><circle cx="314.2" cy="795.7" r="1.55"/><circle cx="315.7" cy="797.3" r="1.55"/><circle cx="308.9" cy="796" r="1.55"/><circle cx="341.9" cy="795.3" r="1.55"/><circle cx="342.4" cy="797" r="1.55"/><circle cx="350.1" cy="795.7" r="1.55"/><circle cx="350.6" cy="797.5" r="1.55"/><circle cx="357.1" cy="796.7" r="1.55"/><circle cx="360.8" cy="795.5" r="1.55"/><circle cx="362.8" cy="796" r="1.55"/><circle cx="361.6" cy="798.4" r="1.55"/><circle cx="361.3" cy="800.9" r="1.55"/><circle cx="299.7" cy="795" r="1.55"/><circle cx="297.2" cy="796.5" r="1.55"/><circle cx="295.3" cy="798" r="1.55"/><circle cx="293.8" cy="799.9" r="1.55"/><circle cx="298.7" cy="798.9" r="1.55"/><circle cx="301.1" cy="797" r="1.55"/><circle cx="309.8" cy="798.4" r="1.55"/><circle cx="311.8" cy="799.4" r="1.55"/><circle cx="313.2" cy="798" r="1.55"/><circle cx="325.4" cy="797.5" r="1.55"/><circle cx="326.8" cy="798.9" r="1.55"/><circle cx="328.8" cy="797.5" r="1.55"/><circle cx="330.7" cy="798.4" r="1.55"/><circle cx="332.2" cy="799.4" r="1.55"/><circle cx="333.6" cy="798" r="1.55"/><circle cx="335.6" cy="800.4" r="1.55"/><circle cx="338.5" cy="800.9" r="1.55"/><circle cx="343.8" cy="798.9" r="1.55"/><circle cx="345.3" cy="800.4" r="1.55"/><circle cx="347.2" cy="800.9" r="1.55"/><circle cx="349.2" cy="801.8" r="1.55"/><circle cx="292.4" cy="801.8" r="1.55"/><circle cx="293.3" cy="803.3" r="1.55"/><circle cx="294.8" cy="801.6" r="1.55"/><circle cx="296.3" cy="802.8" r="1.55"/><circle cx="297.7" cy="803.8" r="1.55"/><circle cx="299.2" cy="802.3" r="1.55"/><circle cx="300.6" cy="803.3" r="1.55"/><circle cx="302.6" cy="801.4" r="1.55"/><circle cx="304" cy="802.8" r="1.55"/><circle cx="305.5" cy="803.8" r="1.55"/><circle cx="307.4" cy="801.8" r="1.55"/><circle cx="308.9" cy="803.3" r="1.55"/><circle cx="310.8" cy="802.3" r="1.55"/><circle cx="312.3" cy="803.8" r="1.55"/><circle cx="314.2" cy="801.8" r="1.55"/><circle cx="315.7" cy="803.3" r="1.55"/><circle cx="317.1" cy="802.3" r="1.55"/><circle cx="319.1" cy="803.3" r="1.55"/><circle cx="320.5" cy="801.8" r="1.55"/><circle cx="322" cy="802.8" r="1.55"/><circle cx="323.4" cy="801.4" r="1.55"/><circle cx="324.9" cy="803.3" r="1.55"/><circle cx="326.3" cy="801.8" r="1.55"/><circle cx="328.3" cy="802.8" r="1.55"/><circle cx="329.7" cy="803.8" r="1.55"/><circle cx="331.2" cy="801.8" r="1.55"/><circle cx="333.1" cy="802.8" r="1.55"/><circle cx="334.6" cy="803.8" r="1.55"/><circle cx="336.5" cy="802.3" r="1.55"/><circle cx="340.4" cy="802.8" r="1.55"/><circle cx="342.9" cy="802.3" r="1.55"/><circle cx="345.3" cy="803.3" r="1.55"/><circle cx="346.7" cy="804.8" r="1.55"/><circle cx="348.7" cy="803.8" r="1.55"/><circle cx="351.1" cy="803.3" r="1.55"/><circle cx="356.9" cy="803.3" r="1.55"/><circle cx="299.2" cy="805.7" r="1.55"/><circle cx="305.5" cy="805.4" r="1.55"/><circle cx="310.8" cy="806.2" r="1.55"/><circle cx="323" cy="805.4" r="1.55"/><circle cx="328.8" cy="805.4" r="1.55"/><circle cx="336.5" cy="804.8" r="1.55"/><circle cx="297.4" cy="809.6" r="1.55"/><circle cx="303.5" cy="809.3" r="1.55"/><circle cx="310.3" cy="808.2" r="1.55"/><circle cx="311.8" cy="809.6" r="1.55"/><circle cx="313.7" cy="808.6" r="1.55"/><circle cx="312.8" cy="811.6" r="1.55"/><circle cx="315.4" cy="813.5" r="1.55"/><circle cx="323.4" cy="807.7" r="1.55"/><circle cx="324.1" cy="809.1" r="1.55"/><circle cx="324.7" cy="811.1" r="1.55"/><circle cx="326.3" cy="812.5" r="1.55"/><circle cx="328.3" cy="814.5" r="1.55"/><circle cx="333.8" cy="814" r="1.55"/><circle cx="338.5" cy="809.1" r="1.55"/><circle cx="339.9" cy="808.2" r="1.55"/><circle cx="339" cy="811.1" r="1.55"/><circle cx="338.5" cy="813.5" r="1.55"/><circle cx="346.3" cy="806.2" r="1.55"/><circle cx="349.2" cy="807.7" r="1.55"/><circle cx="350.1" cy="809.6" r="1.55"/><circle cx="351.6" cy="811.1" r="1.55"/><circle cx="350.6" cy="813" r="1.55"/><circle cx="356.9" cy="807.7" r="1.55"/><circle cx="356" cy="814.5" r="1.55"/><circle cx="357.4" cy="816.4" r="1.55"/><circle cx="359.8" cy="815.1" r="1.55"/><circle cx="361.8" cy="816.1" r="1.55"/><circle cx="363.7" cy="816.7" r="1.55"/><circle cx="367.6" cy="814.2" r="1.55"/><circle cx="326.6" cy="819.8" r="1.55"/><circle cx="352.6" cy="821.7" r="1.55"/><circle cx="361.6" cy="824.9" r="1.55"/><circle cx="350.1" cy="726.8" r="1.55"/><circle cx="361.7" cy="738.8" r="1.55"/><circle cx="343.9" cy="758.3" r="1.55"/><circle cx="339.4" cy="770.5" r="1.55"/><circle cx="353.6" cy="768.5" r="1.55"/><circle cx="312.2" cy="774" r="1.55"/><circle cx="363.7" cy="774.8" r="1.55"/><circle cx="307" cy="777.3" r="1.55"/><circle cx="374.9" cy="777.7" r="1.55"/><circle cx="379.8" cy="779.2" r="1.55"/><circle cx="336.1" cy="778.8" r="1.55"/><circle cx="402.5" cy="782.1" r="1.55"/><circle cx="442.3" cy="786.4" r="1.55"/><circle cx="372.4" cy="788.9" r="1.55"/><circle cx="370.5" cy="794.8" r="1.55"/><circle cx="374.3" cy="796.7" r="1.55"/><circle cx="377.3" cy="797.1" r="1.55"/><circle cx="399.2" cy="797.3" r="1.55"/><circle cx="405.4" cy="796.3" r="1.55"/><circle cx="376.3" cy="801.6" r="1.55"/><circle cx="383.1" cy="801.2" r="1.55"/><circle cx="384.6" cy="801.9" r="1.55"/><circle cx="392.4" cy="801.6" r="1.55"/><circle cx="413.8" cy="800.2" r="1.55"/><circle cx="422.5" cy="801.6" r="1.55"/><circle cx="376.3" cy="807.4" r="1.55"/><circle cx="408.7" cy="806.4" r="1.55"/><circle cx="404.4" cy="809.3" r="1.55"/><circle cx="373" cy="811.4" r="1.55"/><circle cx="390.9" cy="810.4" r="1.55"/><circle cx="392.4" cy="812.9" r="1.55"/><circle cx="402.5" cy="809.8" r="1.55"/><circle cx="391.8" cy="823" r="1.55"/><circle cx="371.8" cy="833.3" r="1.55"/><circle cx="418.6" cy="830.4" r="1.55"/><circle cx="441.7" cy="833.7" r="1.55"/><circle cx="341" cy="840.9" r="1.55"/><circle cx="362.3" cy="844" r="1.55"/><circle cx="396.7" cy="843.4" r="1.55"/><circle cx="437.1" cy="845.3" r="1.55"/><circle cx="389.9" cy="848.8" r="1.55"/><circle cx="341" cy="857" r="1.55"/><circle cx="383.5" cy="858.3" r="1.55"/><circle cx="334.5" cy="866.7" r="1.55"/><circle cx="449.5" cy="741.8" r="1.55"/><circle cx="465" cy="826.2" r="1.55"/><circle cx="458.5" cy="833" r="1.55"/><circle cx="452" cy="840.8" r="1.55"/><circle cx="520.5" cy="836.8" r="1.55"/><circle cx="505" cy="859.5" r="1.55"/></g>
<text class="t" text-anchor="middle" transform="translate(220.3 801.45) rotate(-90)">Difference in fibre intake (g)</text>
<text class="t" text-anchor="middle" transform="translate(238.4 801.45) rotate(-90)">(photo-based v. weighed record)</text>
<text class="t" text-anchor="middle" x="448.375" y="953.8">Mean fibre intake (g)</text>
<text class="t" text-anchor="middle" x="448.375" y="971.3">(photo-based v. weighed record)</text>
</g>
</svg>
</body></html>
